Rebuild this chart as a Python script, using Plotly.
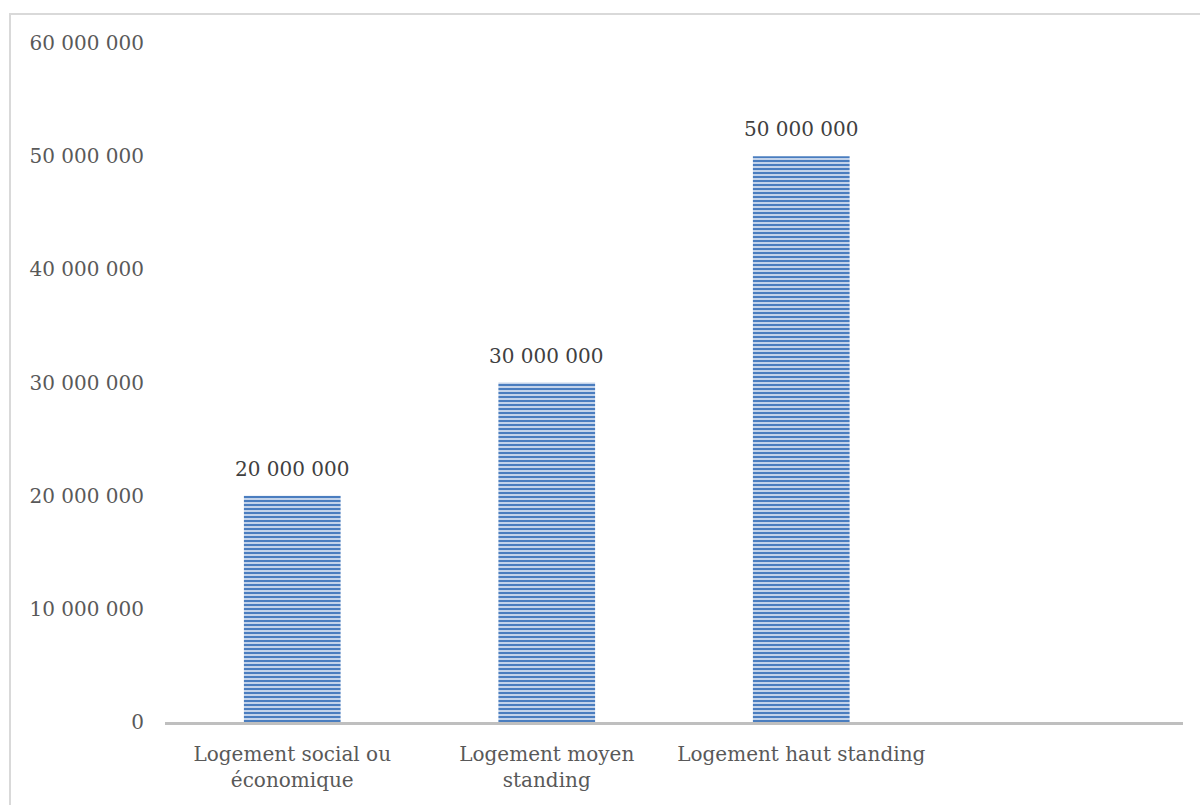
import plotly.graph_objects as go

categories = ["Logement social ou<br>économique", "Logement moyen<br>standing", "Logement haut standing"]
values = [20000000, 30000000, 50000000]
y_ticks = [0, 10000000, 20000000, 30000000, 40000000, 50000000, 60000000]

FONT = "DejaVu Serif"
GREY = "#595959"
SIZE = 20

fig = go.Figure(
    go.Bar(
        x=categories,
        y=values,
        marker=dict(
            color="#c6d6ec",
            line=dict(width=0),
            pattern=dict(shape="-", fgcolor="#4a7dbf", bgcolor="#d0ddef",
                         size=4, solidity=0.55, fillmode="replace"),
        ),
        cliponaxis=False,
    )
)

# value labels above each bar
for cat, val in zip(categories, values):
    fig.add_annotation(
        x=cat, y=val, text=f"{val:,}".replace(",", " "),
        showarrow=False, yanchor="bottom", yshift=13,
        font=dict(family=FONT, size=SIZE, color="#404040"),
    )

fig.update_layout(
    width=1200,
    height=805,
    margin=dict(l=165, r=17, t=43, b=83),
    paper_bgcolor="white",
    plot_bgcolor="white",
    separators=", ",
    bargap=0.62,
    showlegend=False,
    font=dict(family=FONT, size=SIZE, color=GREY),
    xaxis=dict(
        type="category",
        range=[-0.5, 3.5],
        showgrid=False,
        showline=True,
        linecolor="#bfbfbf",
        linewidth=3,
        ticks="",
        ticklabelstandoff=12,
        tickfont=dict(family=FONT, size=SIZE, color=GREY),
    ),
    yaxis=dict(
        range=[0, 60000000],
        tickvals=y_ticks,
        tickformat=",d",
        showgrid=False,
        zeroline=False,
        showline=False,
        ticks="",
        ticklabelstandoff=20,
        tickfont=dict(family=FONT, size=SIZE, color=GREY),
    ),
    shapes=[
        dict(type="rect", xref="paper", yref="paper",
             x0=-155 / 1018, x1=1.2, y0=-0.2, y1=1 + 29 / 679,
             line=dict(color="#d9d9d9", width=2), fillcolor="rgba(0,0,0,0)",
             layer="below"),
    ],
)

fig.write_html("out.html")
